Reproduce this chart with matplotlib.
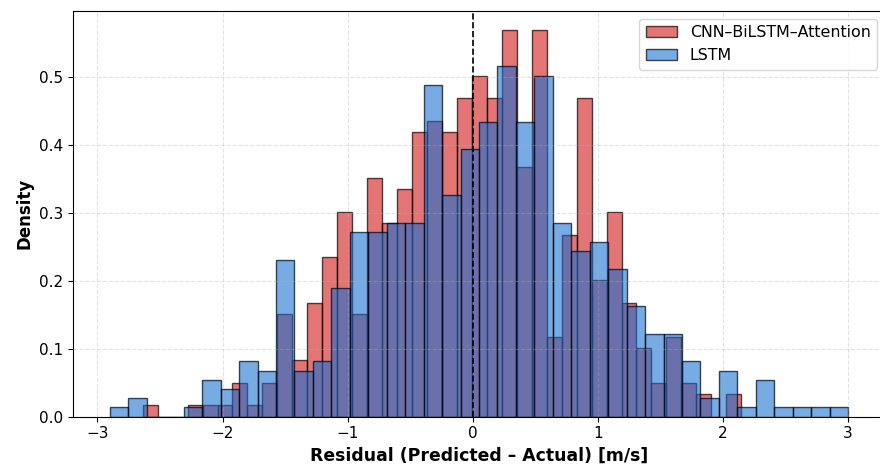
import numpy as np
import matplotlib
matplotlib.use("Agg")
import matplotlib.pyplot as plt

# ---- data (counts per bin; n = 500 each) ----
n_bins = 40
cnn_range = (-2.638, 2.146)
lstm_range = (-2.90, 3.00)

cnn_counts = [1, 0, 0, 1, 1, 1, 3, 1, 3, 9,
              5, 10, 14, 18, 9, 21, 17, 20, 25, 26,
              25, 28, 30, 28, 34, 22, 34, 7, 16, 28,
              12, 18, 10, 6, 3, 7, 3, 2, 0, 2]
lstm_counts = [1, 2, 0, 0, 1, 4, 3, 6, 5, 17,
               5, 6, 14, 20, 20, 21, 21, 36, 24, 29,
               32, 38, 32, 37, 21, 18, 19, 16, 12, 9,
               9, 6, 2, 5, 1, 4, 1, 1, 1, 1]

labels = ["CNN\u2013BiLSTM\u2013Attention", "LSTM"]
x_ticks = [-3, -2, -1, 0, 1, 2, 3]
y_ticks = [0.0, 0.1, 0.2, 0.3, 0.4, 0.5]

plt.rcParams["font.family"] = ["DejaVu Sans"]

fig = plt.figure(figsize=(8.8, 4.67), dpi=100)
ax = fig.add_axes([73 / 880, 1 - 416.7 / 467, (885 - 73) / 880, (416.7 - 11) / 467])

def draw(counts, rng, color, label, alpha):
    edges = np.linspace(rng[0], rng[1], n_bins + 1)
    centers = (edges[:-1] + edges[1:]) / 2
    ax.hist(centers, bins=edges, weights=counts, density=True,
            facecolor=matplotlib.colors.to_rgba(color, alpha),
            edgecolor=(0, 0, 0, 0.7), linewidth=1.0, label=label)

draw(cnn_counts, cnn_range, "#d62728", labels[0], 0.64)
draw(lstm_counts, lstm_range, "#146ed2", labels[1], 0.58)

ax.axvline(0, color="black", linestyle="--", linewidth=1.2)

ax.set_xlim(-3.195, 3.295)
ax.set_ylim(0, 0.5966)
ax.set_xticks(x_ticks)
ax.set_yticks(y_ticks)
ax.tick_params(labelsize=11)
ax.grid(True, linestyle="--", alpha=0.35)
ax.set_xlabel("Residual (Predicted \u2013 Actual) [m/s]", fontsize=12.4, fontweight="bold")
ax.set_ylabel("Density", fontsize=12, fontweight="bold")
ax.legend(loc="upper right", fontsize=11.4)

fig.savefig("out.png", dpi=100)
